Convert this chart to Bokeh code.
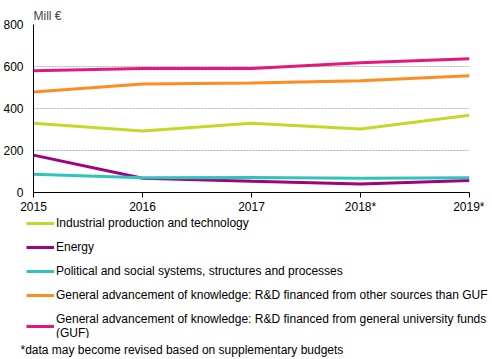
from bokeh.plotting import figure
from bokeh.layouts import column, row
from bokeh.models import (Legend, LegendItem, FixedTicker, Title, Range1d)
from bokeh.embed import file_html
from bokeh.resources import INLINE

years = ["2015", "2016", "2017", "2018*", "2019*"]
industrial = [330, 293, 330, 302, 368]
energy = [178, 68, 53, 40, 57]
political = [87, 70, 72, 68, 70]
gak_other = [479, 517, 522, 532, 556]
gak_guf = [580, 590, 590, 618, 637]

series_names = [
    "Industrial production and technology",
    "Energy",
    "Political and social systems, structures and processes",
    "General advancement of knowledge: R&D financed from other sources than GUF",
    "General advancement of knowledge: R&D financed from general university funds\n(GUF)",
]
series_values = [industrial, energy, political, gak_other, gak_guf]
colors = ["#c5d82a", "#a1007f", "#2ec4bc", "#ff8c1e", "#e5177b"]
footnote = "*data may become revised based on supplementary budgets"

FONT = "Liberation Sans"
W = 484
xs = list(range(len(years)))

p = figure(width=W, height=216, output_backend="svg", toolbar_location=None,
           x_range=Range1d(0, len(years) - 1), y_range=Range1d(0, 800),
           min_border_left=33, min_border_right=W - 469, min_border_top=24,
           min_border_bottom=20)
p.outline_line_color = None

for vals, c in zip(series_values, colors):
    p.line(xs, vals, line_color=c, line_width=3)

p.xaxis.ticker = FixedTicker(ticks=xs)
p.xaxis.major_label_overrides = {i: y for i, y in enumerate(years)}
p.xaxis.minor_tick_line_color = None
p.xaxis.major_tick_in = 0
p.xaxis.major_tick_out = 5
p.xaxis.axis_line_color = "black"
p.xaxis.major_tick_line_color = "black"
p.xaxis.major_label_text_font = FONT
p.xaxis.major_label_text_font_size = "12px"
p.xaxis.major_label_text_color = "black"
p.xaxis.major_label_standoff = 2

p.yaxis.ticker = FixedTicker(ticks=[0, 200, 400, 600, 800])
p.yaxis.minor_tick_line_color = None
p.yaxis.major_tick_line_color = None
p.yaxis.axis_line_color = "black"
p.yaxis.major_label_text_font = FONT
p.yaxis.major_label_text_font_size = "12px"
p.yaxis.major_label_text_color = "black"
p.yaxis.major_label_standoff = 4

p.xgrid.grid_line_color = None
p.ygrid.grid_line_color = "#b0b0b0"
p.ygrid.grid_line_dash = "2 1"
p.ygrid.grid_line_width = 1

p.title.text = "Mill €"
p.title.text_font = FONT
p.title.text_font_size = "12px"
p.title.text_font_style = "normal"
p.title.align = "left"
p.title.standoff = 4

# Legend panel (series drawn out of view so only the legend glyphs show)
W2 = 492
p2 = figure(width=W2, height=142, output_backend="svg", toolbar_location=None,
            x_range=Range1d(0, len(years) - 1), y_range=Range1d(-2000, -1000),
            x_axis_location=None, y_axis_location=None,
            min_border_left=26, min_border_right=0, min_border_top=0,
            min_border_bottom=0)
p2.grid.visible = False
p2.outline_line_color = None

items = []
for name, vals, c in zip(series_names, series_values, colors):
    r = p2.line(xs, vals, line_color=c, line_width=3)
    items.append(LegendItem(label=name, renderers=[r]))

legend = Legend(items=items, location="top_left", orientation="vertical",
                label_text_font=FONT, label_text_font_size="12px",
                label_text_color="black", glyph_width=28, glyph_height=14,
                label_height=14, spacing=10, padding=0, margin=0,
                label_standoff=2, border_line_alpha=0, background_fill_alpha=0)
p2.add_layout(legend, "center")

foot = Title(text=footnote, text_font=FONT, text_font_size="12px",
             text_font_style="normal", text_color="black", align="left",
             offset=-6, standoff=4)
p2.add_layout(foot, "below")

open("out.html", "w").write(file_html(column(p, row(p2), spacing=0), INLINE))
